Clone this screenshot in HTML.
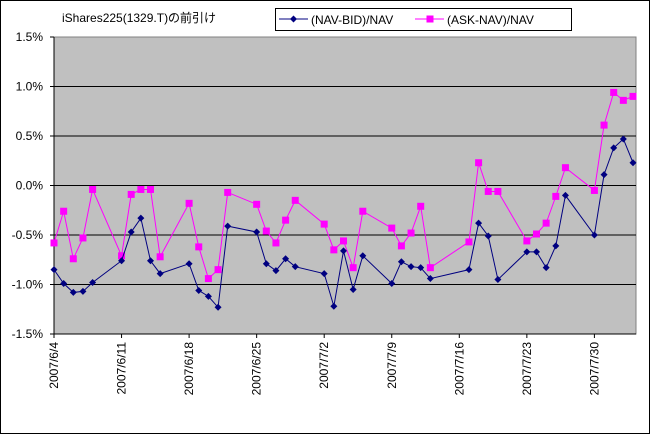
<!DOCTYPE html>
<html><head><meta charset="utf-8"><style>
body{margin:0;background:#fff;}
svg text{font-family:"Liberation Sans","Noto Sans CJK JP",sans-serif;font-size:12px;fill:#000;}
</style></head><body>
<svg width="650" height="434">
<rect x="0.5" y="0.5" width="649" height="433" fill="#fff" stroke="#000"/>
<rect x="54" y="37" width="582" height="297" fill="#c0c0c0" stroke="#808080"/>
<g id="grid"></g><g id="axes"></g><g id="series"></g>
<text x="62" y="22">iShares225(1329.T)の前引け</text>
<g>
<rect x="275.5" y="8.5" width="296" height="22" fill="#fff" stroke="#000"/>
<g>
<line x1="279" y1="19" x2="308" y2="19" stroke="#000080"/>
<path d="M293.5 15.5 L297 19 L293.5 22.5 L290 19Z" fill="#000080"/>
<text x="311" y="24">(NAV-BID)/NAV</text></g>
<g>
<line x1="415" y1="19" x2="444" y2="19" stroke="#ff00ff"/>
<rect x="426.5" y="15.5" width="7" height="7" fill="#ff00ff"/>
<text x="447" y="24">(ASK-NAV)/NAV</text></g>
</g>
</svg>
<script>
const days=[0,1,2,3,4,7,8,9,10,11,14,15,16,17,18,21,22,23,24,25,28,29,30,31,32,35,36,37,38,39,43,44,45,46,49,50,51,52,53,56,57,58,59,60];
const bidValues=[-0.85,-0.99,-1.08,-1.07,-0.98,-0.76,-0.47,-0.33,-0.76,-0.89,-0.79,-1.06,-1.12,-1.23,-0.41,-0.47,-0.79,-0.86,-0.74,-0.82,-0.89,-1.22,-0.66,-1.05,-0.71,-0.99,-0.77,-0.82,-0.83,-0.94,-0.85,-0.38,-0.51,-0.95,-0.67,-0.67,-0.83,-0.61,-0.10,-0.50,0.11,0.38,0.47,0.23];
const askValues=[-0.58,-0.26,-0.74,-0.53,-0.04,-0.71,-0.09,-0.04,-0.04,-0.72,-0.18,-0.62,-0.94,-0.85,-0.07,-0.19,-0.46,-0.58,-0.35,-0.15,-0.39,-0.65,-0.56,-0.83,-0.26,-0.43,-0.61,-0.48,-0.21,-0.83,-0.57,0.23,-0.06,-0.06,-0.56,-0.49,-0.38,-0.11,0.18,-0.05,0.61,0.94,0.86,0.90];
const yTicks=[1.5,1.0,0.5,0.0,-0.5,-1.0,-1.5];
const yTickLabels=["1.5%","1.0%","0.5%","0.0%","-0.5%","-1.0%","-1.5%"];
const xTickDays=[0,7,14,21,28,35,42,49,56];
const xTickLabels=["2007/6/4","2007/6/11","2007/6/18","2007/6/25","2007/7/2","2007/7/9","2007/7/16","2007/7/23","2007/7/30"];
const NS="http://www.w3.org/2000/svg";
const X=d=>54+d*9.65, Y=v=>185.5-v*99;
function mk(p,t,a){const e=document.createElementNS(NS,t);for(const k in a)e.setAttribute(k,a[k]);p.appendChild(e);return e;}
const grid=document.getElementById('grid'),axes=document.getElementById('axes'),ser=document.getElementById('series');
yTicks.forEach((v,i)=>{
 if(v<1.5&&v>-1.5){const g=mk(grid,'line',{x1:54,x2:636,y1:Y(v),y2:Y(v),stroke:'#000'});
 
 }
 mk(axes,'line',{x1:50,x2:54,y1:Y(v),y2:Y(v),stroke:'#000'});
 const t=mk(axes,'text',{x:43,y:Y(v)+4,'text-anchor':'end'});t.textContent=yTickLabels[i];
 
 
});
mk(axes,'line',{x1:54,x2:54,y1:37,y2:334,stroke:'#000'});
mk(axes,'line',{x1:54,x2:636,y1:334,y2:334,stroke:'#000'});
xTickDays.forEach((d,i)=>{
 mk(axes,'line',{x1:X(d),x2:X(d),y1:334,y2:338,stroke:'#000'});
 const t=mk(axes,'text',{x:0,y:0,'text-anchor':'end',transform:`translate(${X(d)+4},342) rotate(-90)`});t.textContent=xTickLabels[i];
 
 
});
function draw(vals,color,marker,name){
 const pl=mk(ser,'polyline',{points:vals.map((v,i)=>X(days[i])+','+Y(v)).join(' '),fill:'none',stroke:color,'stroke-width':1});
 
 
 vals.forEach((v,i)=>{const x=X(days[i]),y=Y(v);let m;
  if(marker==='d')m=mk(ser,'path',{d:`M${x} ${y-3.5}L${x+3.5} ${y}L${x} ${y+3.5}L${x-3.5} ${y}Z`,fill:color});
  else m=mk(ser,'rect',{x:x-3.5,y:y-3.5,width:7,height:7,fill:color});
  
  });
}
draw(askValues,'#ff00ff','s','ask-series');
draw(bidValues,'#000080','d','bid-series');
</script>
</body></html>
